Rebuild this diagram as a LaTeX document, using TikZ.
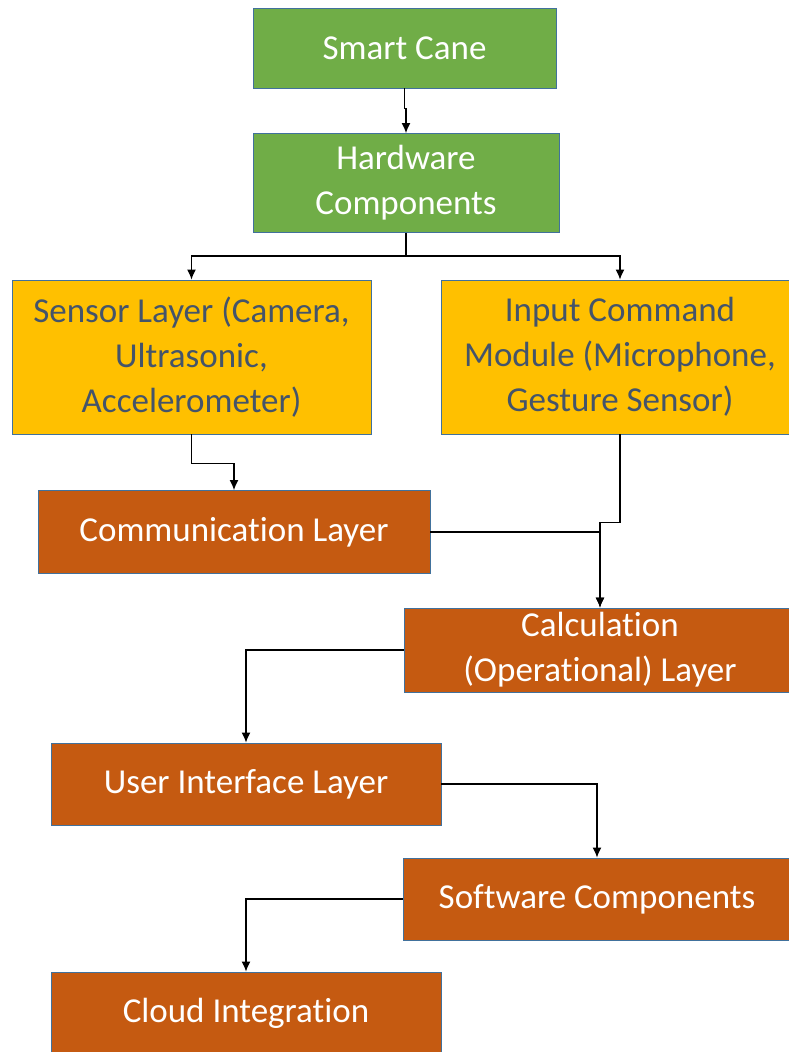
\documentclass[tikz,border=0pt]{standalone}
\usepackage{fontspec}
\setmainfont{Carlito}[Ligatures=NoCommon]
\usetikzlibrary{arrows.meta}
\definecolor{canegreen}{HTML}{70AD47}
\definecolor{layeryellow}{HTML}{FFC000}
\definecolor{layerorange}{HTML}{C55A11}
\definecolor{boxline}{HTML}{41719C}
\definecolor{darktext}{HTML}{44546A}
\begin{document}
\begin{tikzpicture}[>={Latex[length=10pt,width=9pt]}, x=1pt, y=-1pt, line width=1.2pt,
	box/.style={draw=boxline, line width=0.9pt, text=white, align=center, inner sep=0pt,
		font=\fontsize{35}{45}\selectfont},
	greenbox/.style={box, fill=canegreen},
	yellowbox/.style={box, fill=layeryellow, text=darktext},
	orangebox/.style={box, fill=layerorange}]
	\useasboundingbox (0,0) rectangle (789,1052);
	\clip (0,0) rectangle (789,1052);
	%\draw [help lines, step=50] (0,0) grid (789,1052);
	\node [greenbox, minimum width=303, minimum height=80] (cane) at (404.5,48) {Smart Cane};
	\node [greenbox, minimum width=306, minimum height=99] (hw) at (406,183) {Hardware\\Components};
	\node [yellowbox, minimum width=359, minimum height=154] (sensor) at (191.5,357)
		{Sensor Layer (Camera,\\Ultrasonic,\\Accelerometer)};
	\node [yellowbox, minimum width=358, minimum height=154] (input) at (620,357)
		{Input Command\\Module (Microphone,\\Gesture Sensor)};
	\node [orangebox, minimum width=392, minimum height=83] (comm) at (234,532) {Communication Layer};
	\node [orangebox, minimum width=392, minimum height=84] (calc) at (600,650)
		{Calculation\\(Operational) Layer};
	\node [orangebox, minimum width=390, minimum height=82] (ui) at (246,784) {User Interface Layer};
	\node [orangebox, minimum width=388, minimum height=82] (sw) at (597,899) {Software Components};
	\node [orangebox, minimum width=390, minimum height=82] (cloud) at (246,1013) {Cloud Integration};

	\draw [->] (cane.south) -- ++(0,20) -| (hw.north);
	\draw [->] (hw.south) -- ++(0,23) -| (sensor.north);
	\draw [->] (hw.south) -- ++(0,23) -| (input.north);
	\draw [->] (sensor.south) -- ++(0,29) -| (comm.north);
	\draw [->] (input.south) -- ++(0,88) -| (calc.north);
	\draw [->] (comm.east) -| (calc.north);
	\draw [->] (calc.west) -| (ui.north);
	\draw [->] (ui.east) -| (sw.north);
	\draw [->] (sw.west) -| (cloud.north);
\end{tikzpicture}
\end{document}
